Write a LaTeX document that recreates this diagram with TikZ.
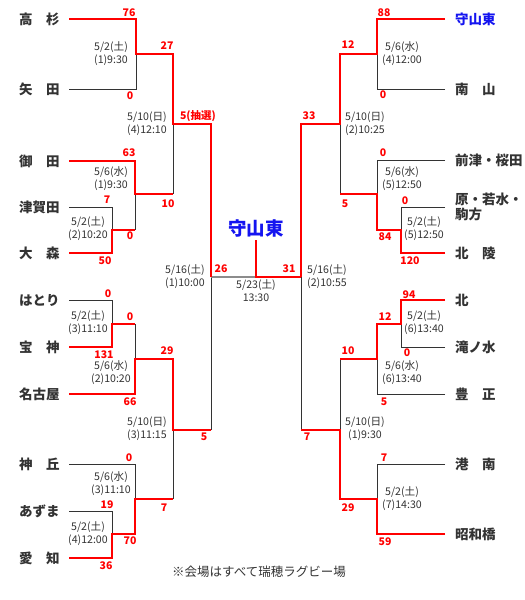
\documentclass[tikz,border=0pt]{standalone}
\usepackage{fontspec}
\setmainfont{Noto Sans CJK JP}
\definecolor{champblue}{HTML}{1414F0}
\definecolor{linegray}{HTML}{333333}
\begin{document}
\begin{tikzpicture}[x=1pt,y=-1pt,
  blk/.style={draw=linegray, line width=1pt},
  win/.style={draw=red, line width=2.6pt},
  team/.style={anchor=west, inner sep=0pt, font=\fontsize{13.5}{15}\selectfont\bfseries, text=black!80},
  score/.style={inner sep=0pt, font=\fontsize{10.5}{12}\selectfont\bfseries, text=red},
  datel/.style={inner sep=0pt, align=center, font=\fontsize{10.6}{13}\selectfont, text=black!80}]
\useasboundingbox[fill=white] (0,0) rectangle (525,600);

% ---------- team names ----------
\node[team] (tL1) at (19,19) {高　杉};
\node[team] (tL2) at (19,89) {矢　田};
\node[team] (tL3) at (19,161) {御　田};
\node[team] (tL4) at (19,207) {津賀田};
\node[team] (tL5) at (19,253) {大　森};
\node[team] (tL6) at (19,300) {はとり};
\node[team] (tL7) at (19,347) {宝　神};
\node[team] (tL8) at (19,394) {名古屋};
\node[team] (tL9) at (19,464) {神　丘};
\node[team] (tL10) at (19,511) {あずま};
\node[team] (tL11) at (19,558) {愛　知};

\node[team, text=champblue] (tR1) at (455,19) {守山東};
\node[team] (tR2) at (455,89) {南　山};
\node[team] (tR3) at (455,160) {前津・桜田};
\node[team, align=left, font=\fontsize{13.5}{15}\selectfont\bfseries] (tR4) at (455,207) {原・若水・\\駒方};
\node[team] (tR5) at (455,253) {北　陵};
\node[team] (tR6) at (455,300) {北};
\node[team] (tR7) at (455,347) {滝ノ水};
\node[team] (tR8) at (455,394) {豊　正};
\node[team] (tR9) at (455,464) {港　南};
\node[team] (tR10) at (455,534) {昭和橋};

% ---------- line start coordinates ----------
\coordinate (L1) at (69,19);   \coordinate (L2) at (69,89);
\coordinate (L3) at (69,161);  \coordinate (L4) at (69,207);
\coordinate (L5) at (69,253);  \coordinate (L6) at (69,300);
\coordinate (L7) at (69,347);  \coordinate (L8) at (69,394);
\coordinate (L9) at (69,464);  \coordinate (L10) at (69,511);
\coordinate (L11) at (69,558);

\coordinate (R1) at (445,19);  \coordinate (R2) at (445,89);
\coordinate (R3) at (445,160); \coordinate (R4) at (445,207);
\coordinate (R5) at (445,253); \coordinate (R6) at (445,300);
\coordinate (R7) at (445,347); \coordinate (R8) at (445,394);
\coordinate (R9) at (445,464); \coordinate (R10) at (445,534);

% ---------- match points ----------
\coordinate (mA) at (112,230); \coordinate (mB) at (112,324); \coordinate (mC) at (112,534);
\coordinate (m1) at (136,54);  \coordinate (m2) at (135,194);
\coordinate (m3) at (135,359); \coordinate (m4) at (135,499);
\coordinate (m5) at (173,124); \coordinate (m6) at (173,430);
\coordinate (m7) at (211,277);

\coordinate (nA) at (401,230); \coordinate (nB) at (401,324);
\coordinate (n1) at (377,54);  \coordinate (n2) at (377,194);
\coordinate (n3) at (377,359); \coordinate (n4) at (377,499);
\coordinate (n5) at (340,124); \coordinate (n6) at (340,430);
\coordinate (n7) at (301,277);

\coordinate (F) at (256,277);
\coordinate (Ftop) at (256,240);

% ---------- black lines ----------
\draw[blk] (L2) -| (m1);
\draw[blk] (L4) -| (mA);
\draw[blk] (mA -| m2) -- (m2);
\draw[blk] (m2 -| m5) -- (m5);
\draw[blk] (L6) -| (mB);
\draw[blk] (mB -| m3) -- (m3);
\draw[blk] (L9) -| (m4);
\draw[blk] (L10) -| (mC);
\draw[blk] (m4 -| m6) -- (m6);
\draw[blk] (m6 -| m7) -- (m7);

\draw[blk] (R2) -| (n1);
\draw[blk] (R3) -| (n2);
\draw[blk] (R4) -| (nA);
\draw[blk] (n2 -| n5) -- (n5);
\draw[blk] (R7) -| (nB);
\draw[blk] (R8) -| (n3);
\draw[blk] (n3 -| n6) -- (n6);
\draw[blk] (R9) -| (n4);
\draw[blk] (n6 -| n7) -- (n7);

\draw[draw=black!45, line width=1.6pt] (m7) -- (F);

% ---------- red (winner) lines ----------
\draw[win] (L1) -| (m1) -| (m5) -| (m7);
\draw[win] (L3) -| (m2) -- (m2 -| m5);
\draw[win] (L5) -| (mA) -- (mA -| m2);
\draw[win] (L7) -| (mB) -- (mB -| m3);
\draw[win] (L8) -| (m3) -| (m6) -- (m6 -| m7);
\draw[win] (L11) -| (mC) -| (m4) -- (m4 -| m6);

\draw[win] (R1) -| (n1) -| (n5) -| (n7);
\draw[win] (R5) -| (nA) -| (n2) -- (n2 -| n5);
\draw[win] (R6) -| (nB) -| (n3) -- (n3 -| n6);
\draw[win] (R10) -| (n4) -| (n6) -- (n6 -| n7);
\draw[win] (Ftop) -- (F) -- (n7);

% ---------- champion ----------
\node[inner sep=0pt, font=\fontsize{18.5}{20}\selectfont\bfseries, text=champblue] (champ) at (256,228) {守山東};

% ---------- scores ----------
\node[score] (sL1) at (129,13) {76};
\node[score] (sL2) at (130,96) {0};
\node[score] (sL3) at (167,46) {27};
\node[score] (sL4) at (198,116) {5(抽選)};
\node[score] (sL5) at (129,153) {63};
\node[score] (sL6) at (168,204) {10};
\node[score] (sL7) at (107,200) {7};
\node[score] (sL8) at (130,236) {0};
\node[score] (sL9) at (105,261) {50};
\node[score] (sL10) at (108,294) {0};
\node[score] (sL11) at (130,317) {0};
\node[score] (sL12) at (104,355) {131};
\node[score] (sL13) at (167,351) {29};
\node[score] (sL14) at (130,402) {66};
\node[score] (sL15) at (204,437) {5};
\node[score] (sL16) at (129,458) {0};
\node[score] (sL17) at (107,505) {19};
\node[score] (sL18) at (130,541) {70};
\node[score] (sL19) at (106,566) {36};
\node[score] (sL20) at (164,508) {7};
\node[score] (sF1) at (221,269) {26};
\node[score] (sF2) at (289,269) {31};

\node[score] (sR1) at (384,13) {88};
\node[score] (sR2) at (348,45) {12};
\node[score] (sR3) at (383,95) {0};
\node[score] (sR4) at (309,116) {33};
\node[score] (sR5) at (383,153) {0};
\node[score] (sR6) at (345,204) {5};
\node[score] (sR7) at (405,201) {0};
\node[score] (sR8) at (385,237) {84};
\node[score] (sR9) at (410,261) {120};
\node[score] (sR10) at (409,295) {94};
\node[score] (sR11) at (385,317) {12};
\node[score] (sR12) at (407,353) {0};
\node[score] (sR13) at (348,351) {10};
\node[score] (sR14) at (384,402) {5};
\node[score] (sR15) at (307,437) {7};
\node[score] (sR16) at (384,458) {7};
\node[score] (sR17) at (348,508) {29};
\node[score] (sR18) at (385,542) {59};

% ---------- dates ----------
\node[datel] (dL1) at (111,54) {5/2(土)\\(1)9:30};
\node[datel] (dL2) at (147,124) {5/10(日)\\(4)12:10};
\node[datel] (dL3) at (111,179) {5/6(水)\\(1)9:30};
\node[datel] (dL4) at (88,229) {5/2(土)\\(2)10:20};
\node[datel] (dL5) at (185,277) {5/16(土)\\(1)10:00};
\node[datel] (dL6) at (88,323) {5/2(土)\\(3)11:10};
\node[datel] (dL7) at (111,373) {5/6(水)\\(2)10:20};
\node[datel] (dL8) at (147,429) {5/10(日)\\(3)11:15};
\node[datel] (dL9) at (111,484) {5/6(水)\\(3)11:10};
\node[datel] (dL10) at (88,534) {5/2(土)\\(4)12:00};

\node[datel] (dR1) at (402,54) {5/6(水)\\(4)12:00};
\node[datel] (dR2) at (365,124) {5/10(日)\\(2)10:25};
\node[datel] (dR3) at (402,179) {5/6(水)\\(5)12:50};
\node[datel] (dR4) at (424,229) {5/2(土)\\(5)12:50};
\node[datel] (dR5) at (327,277) {5/16(土)\\(2)10:55};
\node[datel] (dR6) at (424,323) {5/2(土)\\(6)13:40};
\node[datel] (dR7) at (402,373) {5/6(水)\\(6)13:40};
\node[datel] (dR8) at (365,429) {5/10(日)\\(1)9:30};
\node[datel] (dR9) at (402,499) {5/2(土)\\(7)14:30};

\node[datel] (dF) at (256,291) {5/23(土)\\13:30};

% ---------- footer ----------
\node[inner sep=0pt, font=\fontsize{12.5}{14}\selectfont, text=black!80] (note) at (259,572) {※会場はすべて瑞穂ラグビー場};
\end{tikzpicture}
\end{document}
